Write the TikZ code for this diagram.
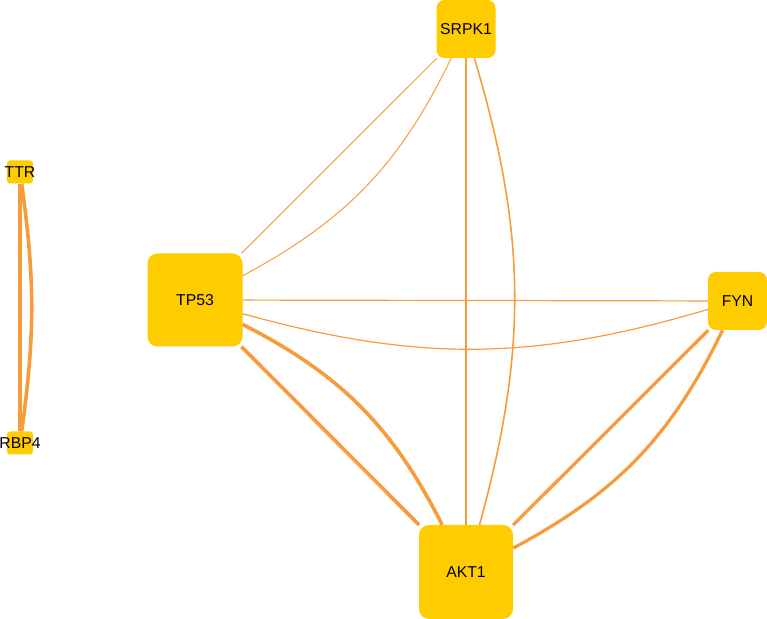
\documentclass[tikz,border=0pt]{standalone}
\usepackage{fontspec}
\setmainfont{Liberation Sans}
\definecolor{nodefill}{RGB}{255,204,0}
\definecolor{edgecol}{RGB}{246,156,58}
\begin{document}
\begin{tikzpicture}[x=1bp,y=1bp,
  gene/.style={fill=nodefill,draw=none,inner sep=0pt,font=\fontsize{15.8}{18}\selectfont,text=black},
  big/.style={gene,minimum width=94bp,minimum height=94bp,rounded corners=10bp},
  mid/.style={gene,minimum width=59bp,minimum height=58bp,rounded corners=8bp},
  small/.style={gene,minimum width=26bp,minimum height=23bp,rounded corners=3bp},
  edge/.style={draw=edgecol},
  thin/.style={edge,line width=1bp},
  medium/.style={edge,line width=1.6bp},
  thick/.style={edge,line width=3.6bp},
  ]
\useasboundingbox (0,0) rectangle (767,619);
\node[mid] (srpk) at (466,590) {SRPK1};
\node[big,minimum width=95bp,minimum height=93bp] (tp) at (195,319) {TP53};
\node[big] (akt) at (466,47) {AKT1};
\node[mid] (fyn) at (737.5,318) {FYN};
\node[small] (ttr) at (20,447) {\makebox[0pt]{TTR}};
\node[small] (rbp) at (20,176) {\makebox[0pt]{RBP4}};
\path[thin] (srpk) -- (tp);
\path[thin] (srpk) to[bend left=18] (tp);
\path[medium] (srpk) -- (akt);
\path[medium] (srpk) to[bend left=16] (akt);
\path[thin,line width=1.2bp] (tp) -- (fyn);
\path[thin,line width=1.2bp] (tp) to[bend right=16] (fyn);
\path[thick] (tp) -- (akt);
\path[thick] (tp) to[bend left=18] (akt);
\path[thick,line width=3.2bp] (fyn) -- (akt);
\path[thick,line width=3.2bp] (fyn) to[bend left=18] (akt);
\path[thick] (ttr) -- (rbp);
\path[thick] (ttr) to[bend left=8] (rbp);
\end{tikzpicture}
\end{document}
